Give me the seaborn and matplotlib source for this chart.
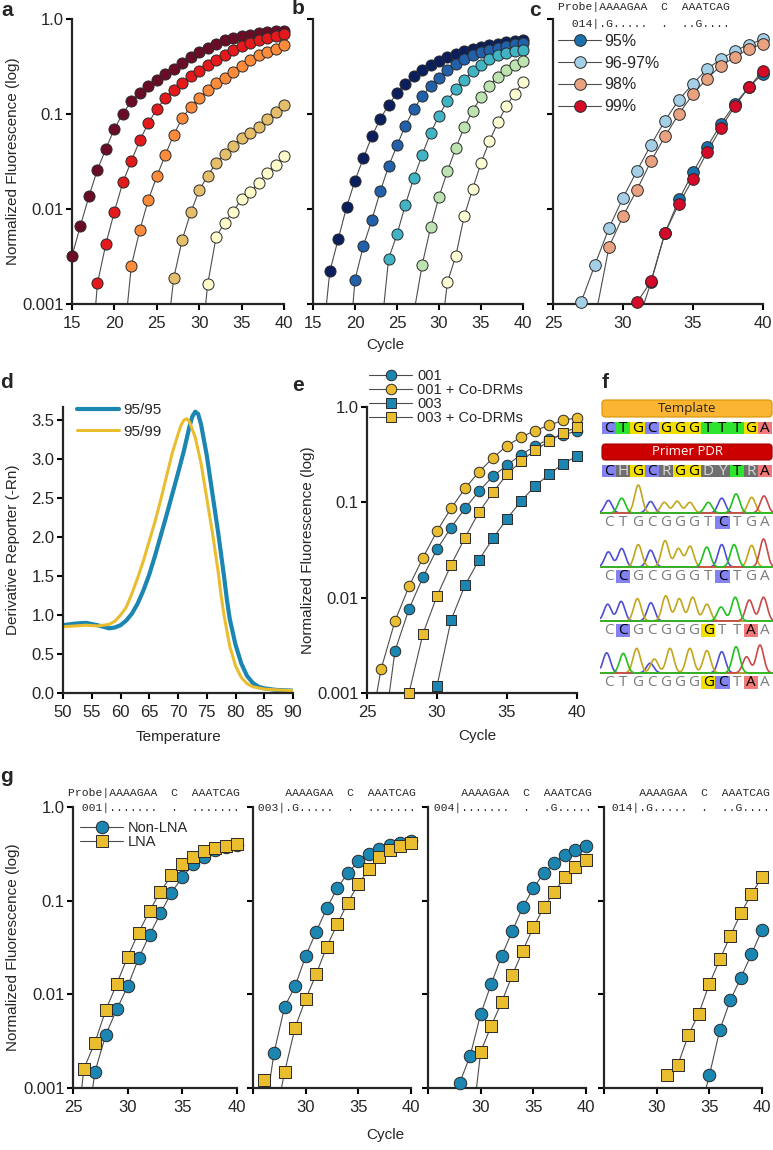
import numpy as np
import pandas as pd
import seaborn as sns
import matplotlib.pyplot as plt
from matplotlib.lines import Line2D
from matplotlib.patches import Rectangle, FancyBboxPatch
from matplotlib.ticker import NullLocator

# ---- data (normalized fluorescence, last value = cycle 40) ----
a_maroon = [0.0032, 0.0067, 0.0136, 0.026, 0.043, 0.070, 0.101, 0.136, 0.166, 0.195, 0.230, 0.262, 0.300,
            0.344, 0.398, 0.45, 0.495, 0.546, 0.596, 0.63, 0.657, 0.684, 0.71, 0.725, 0.74, 0.755]
a_red = [0.00013, 0.00165, 0.0043, 0.0094, 0.0191, 0.032, 0.053, 0.080, 0.113, 0.147, 0.18, 0.212, 0.25,
         0.285, 0.325, 0.37, 0.42, 0.47, 0.52, 0.565, 0.6, 0.63, 0.665, 0.695]
a_orange = [0.00032, 0.00253, 0.006, 0.0125, 0.022, 0.037, 0.0606, 0.0907, 0.119, 0.147, 0.177, 0.21, 0.24,
            0.28, 0.323, 0.37, 0.415, 0.445, 0.485, 0.535]
a_tan = [0.00031, 0.00188, 0.00475, 0.0092, 0.0157, 0.0224, 0.0305, 0.0382, 0.0464, 0.0559, 0.063, 0.0724,
         0.088, 0.104, 0.125]
a_pale = [0.00021, 0.00162, 0.0051, 0.0072, 0.0094, 0.0127, 0.015, 0.0188, 0.024, 0.0293, 0.0364]
a_colors = ["#6b0c26", "#e3191c", "#fd8b3c", "#e5be6c", "#fcfbc9"]

b_navy = [0.0003, 0.0022, 0.0048, 0.0105, 0.0199, 0.0344, 0.0582, 0.0885, 0.125, 0.166, 0.207, 0.249, 0.293,
          0.325, 0.358, 0.395, 0.428, 0.457, 0.483, 0.507, 0.528, 0.55, 0.568, 0.582, 0.596]
b_blue = [0.00015, 0.0018, 0.0041, 0.0076, 0.0153, 0.0281, 0.0468, 0.0754, 0.113, 0.153, 0.199, 0.239, 0.288,
          0.336, 0.379, 0.421, 0.45, 0.476, 0.495, 0.524, 0.546, 0.559]
b_teal = [0.0004, 0.003, 0.0054, 0.0111, 0.0212, 0.0373, 0.063, 0.096, 0.138, 0.183, 0.23, 0.281, 0.331,
          0.379, 0.42, 0.44, 0.457, 0.468]
b_green = [0.0008, 0.0026, 0.0064, 0.0134, 0.0249, 0.0439, 0.0724, 0.108, 0.151, 0.199, 0.245, 0.288, 0.325, 0.358]
b_pale = [0.0003, 0.0017, 0.0032, 0.0084, 0.0162, 0.0305, 0.0515, 0.0817, 0.12, 0.164, 0.216]
b_colors = ["#0b1f5c", "#2260a9", "#40b4c4", "#bde3b0", "#fdfdd4"]

c_labels = ["95%", "96-97%", "98%", "99%"]
c_95 = [0.0006, 0.0017, 0.0056, 0.0126, 0.0243, 0.0446, 0.079, 0.128, 0.192, 0.266]
c_9697 = [0.0003, 0.00104, 0.0026, 0.0063, 0.0131, 0.0253, 0.0475, 0.085, 0.142, 0.208, 0.298, 0.379, 0.464,
          0.537, 0.616]
c_98 = [0.0007, 0.004, 0.0084, 0.016, 0.0318, 0.0582, 0.101, 0.162, 0.236, 0.323, 0.398, 0.487, 0.546]
c_99 = [0.00104, 0.00173, 0.0056, 0.0114, 0.0207, 0.0395, 0.0713, 0.122, 0.192, 0.286]
c_colors = ["#1b6fab", "#a5cfe6", "#e9a27f", "#d50a28"]

d_labels = ["95/95", "95/99"]
d_temp_blue = [50, 52, 54, 56, 58, 59, 60, 61, 62, 63, 64, 65, 66, 67, 68, 69, 70, 71, 72, 72.5, 73, 73.5, 74,
               75, 76, 77, 78, 78.5, 79, 80, 81, 82, 83, 84, 85, 87, 90]
d_blue = [0.87, 0.89, 0.90, 0.87, 0.83, 0.84, 0.87, 0.93, 1.02, 1.15, 1.32, 1.52, 1.76, 2.02, 2.28, 2.55, 2.82,
          3.1, 3.42, 3.55, 3.61, 3.58, 3.45, 3.05, 2.55, 2.05, 1.5, 1.2, 0.95, 0.62, 0.38, 0.22, 0.13, 0.08,
          0.06, 0.04, 0.03]
d_temp_yel = [50, 52, 54, 56, 58, 59, 60, 61, 62, 63, 64, 65, 66, 67, 68, 69, 70, 70.5, 71, 71.5, 72, 73, 74,
              75, 76, 77, 77.5, 78, 79, 80, 81, 82, 83, 85, 87, 90]
d_yel = [0.85, 0.86, 0.87, 0.86, 0.88, 0.92, 1.0, 1.1, 1.28, 1.48, 1.7, 1.95, 2.2, 2.48, 2.78, 3.08, 3.32,
         3.43, 3.5, 3.52, 3.48, 3.28, 2.95, 2.5, 2.05, 1.55, 1.25, 1.0, 0.6, 0.35, 0.2, 0.12, 0.08, 0.05,
         0.04, 0.03]

e_labels = ["001", "001 + Co-DRMs", "003", "003 + Co-DRMs"]
e_001 = [0.00022, 0.00277, 0.0076, 0.0165, 0.0322, 0.0542, 0.0863, 0.131, 0.188, 0.245, 0.317, 0.388, 0.46,
         0.51, 0.56]
e_001co = [0.00026, 0.00177, 0.0057, 0.0131, 0.0263, 0.05, 0.0863, 0.14, 0.209, 0.292, 0.394, 0.482, 0.565,
           0.643, 0.725, 0.77]
e_003 = [0.0002, 0.00118, 0.0058, 0.0135, 0.0249, 0.0419, 0.0673, 0.103, 0.148, 0.196, 0.255, 0.305]
e_003co = [0.0003, 0.001, 0.0042, 0.0104, 0.022, 0.0426, 0.079, 0.128, 0.196, 0.27, 0.352, 0.438, 0.535, 0.617]

BLUE = "#1b86b2"
YELLOW = "#eabd2e"

g_probes = ["001", "003", "004", "014"]
g_codes = [".......  .  .......", ".G.....  .  .......", ".......  .  .G.....", ".G.....  .  ..G...."]
g_labels = ["Non-LNA", "LNA"]
g_nonlna = [
    [0.0002, 0.00148, 0.0037, 0.0069, 0.0122, 0.0242, 0.043, 0.0734, 0.122, 0.178, 0.248, 0.296, 0.344, 0.37, 0.39],
    [0.00042, 0.00239, 0.00736, 0.0122, 0.0256, 0.0467, 0.083, 0.136, 0.197, 0.262, 0.314, 0.355, 0.389, 0.412, 0.429],
    [0.00113, 0.0022, 0.00614, 0.0129, 0.0258, 0.0474, 0.085, 0.136, 0.197, 0.252, 0.309, 0.349, 0.379],
    [0.0005, 0.00136, 0.0042, 0.00867, 0.0151, 0.0269, 0.0486],
]
g_lna = [
    [0.00015, 0.00161, 0.00305, 0.0068, 0.0129, 0.0252, 0.0456, 0.0777, 0.125, 0.186, 0.245, 0.296, 0.335, 0.364,
     0.385, 0.40],
    [0.00121, 0.0004, 0.00148, 0.00442, 0.0089, 0.0164, 0.0323, 0.056, 0.0955, 0.15, 0.217, 0.289, 0.349, 0.379, 0.412],
    [0.00026, 0.00243, 0.0046, 0.0083, 0.016, 0.0292, 0.052, 0.085, 0.125, 0.178, 0.228, 0.273],
    [0.00136, 0.00175, 0.00365, 0.00624, 0.0129, 0.0236, 0.0423, 0.0734, 0.118, 0.178],
]

f_template = "CTGCGGGTTTGA"
f_primer = "CHGCRGGDYTRA"
f_reads = ["CTGCGGGTCTGA", "CCGCGGGTCTGA", "CCGCGGGGTTAA", "CTGCGGGGCTAA"]
f_marked = [[8], [1, 8], [1, 7, 10], [7, 8, 10]]
# chromatogram peaks: (base, position in cells, relative height)
f_peaks = [
    [("C", 0.45, 0.45), ("T", 1.39, 0.53), ("G", 2.56, 1.0), ("C", 3.43, 0.41), ("G", 4.4, 0.38), ("G", 5.3, 0.42),
     ("G", 6.2, 0.38), ("T", 7.5, 0.38), ("C", 8.45, 0.53), ("T", 9.46, 0.68), ("G", 10.56, 0.56), ("A", 11.43, 0.61)],
    [("C", 0.45, 0.54), ("C", 1.39, 0.66), ("G", 2.56, 0.8), ("C", 3.43, 0.6), ("G", 4.45, 0.94), ("G", 5.39, 0.66),
     ("G", 6.21, 0.74), ("T", 7.39, 0.71), ("C", 8.45, 0.8), ("T", 9.32, 0.8), ("G", 10.56, 0.77), ("A", 11.4, 1.0)],
    [("C", 0.4, 0.6), ("C", 1.35, 0.7), ("G", 2.5, 0.8), ("C", 3.45, 0.65), ("G", 4.5, 0.9), ("G", 5.45, 0.8),
     ("G", 6.4, 0.85), ("G", 7.4, 0.6), ("T", 8.4, 0.5), ("T", 9.4, 0.85), ("A", 10.4, 0.75), ("A", 11.4, 0.85)],
    [("C", 0.33, 0.72), ("T", 1.5, 0.7), ("G", 2.45, 0.88), ("C", 3.4, 0.35), ("G", 3.7, 0.5), ("G", 4.8, 0.88),
     ("G", 6.2, 0.88), ("G", 7.4, 0.8), ("C", 8.45, 0.76), ("T", 9.46, 0.94), ("A", 10.2, 0.58), ("A", 11.15, 1.0)],
]

CELL_COLORS = {"C": "#8282f2", "T": "#2fe42f", "G": "#f3de00", "A": "#f27a7a"}
TRACE_COLORS = {"C": "#4e4ed2", "G": "#c3a61c", "A": "#c84a4a", "T": "#20c020"}

# ---- figure ----
sns.set_style("ticks")
plt.rcParams["font.family"] = ["Liberation Sans", "DejaVu Sans"]
W, H = 773, 1150
fig = plt.figure(figsize=(W / 100, H / 100), dpi=100)

LINE_COL = "#4d4d4d"
EDGE_COL = "#2a2a2a"
LOG_TICKS = [0.001, 0.01, 0.1, 1.0]
LOG_LABELS = ["0.001", "0.01", "0.1", "1.0"]


def rect(x0, y0, x1, y1):
    return [x0 / W, 1 - y1 / H, (x1 - x0) / W, (y1 - y0) / H]


def fpos(x, y):
    return x / W, 1 - y / H


def tidy(ax):
    for s in ["top", "right"]:
        ax.spines[s].set_visible(False)
    for s in ["left", "bottom"]:
        ax.spines[s].set_linewidth(1.6)
    ax.tick_params(direction="out", length=4.5, width=1.5, labelsize=12, color="black")
    ax.tick_params(axis="x", pad=4)
    ax.tick_params(axis="y", pad=1.5)
    ax.set_xlabel("")
    ax.set_ylabel("")


def log_axes(ax, x0, xticks, xlabels, ylabels=True):
    ax.set_ylim(0.001, 1.0)
    ax.set_xlim(x0, 40)
    ax.set_yticks(LOG_TICKS)
    ax.set_yticklabels(LOG_LABELS)
    ax.yaxis.set_minor_locator(NullLocator())
    ax.set_xticks(xticks)
    ax.set_xticklabels(xlabels)
    tidy(ax)
    if not ylabels:
        ax.tick_params(axis="y", labelleft=False)


def draw_series(ax, vals, face, marker="o", size=8.0):
    cyc = np.arange(41 - len(vals), 41)
    df = pd.DataFrame({"cycle": cyc, "fluor": vals})
    sns.lineplot(data=df, x="cycle", y="fluor", ax=ax, color=LINE_COL, linewidth=0.8,
                 zorder=2, legend=False, errorbar=None)
    shown = df[df["fluor"] >= 0.001]
    sns.scatterplot(data=shown, x="cycle", y="fluor", ax=ax, marker=marker, s=size ** 2, color=face,
                    edgecolor=EDGE_COL, linewidth=0.7, clip_on=False, zorder=3, legend=False)


def proxy(face, marker="o", size=8.0):
    return Line2D([], [], color=LINE_COL, lw=0.8, marker=marker, markersize=size, markerfacecolor=face,
                  markeredgecolor=EDGE_COL, markeredgewidth=0.7)


mono = dict(family="Liberation Mono", fontsize=8.2, va="center", ha="left")

# a
ax_a = fig.add_axes(rect(72, 19, 284, 304))
ax_a.set_yscale("log")
for vals, col in zip([a_maroon, a_red, a_orange, a_tan, a_pale], a_colors):
    draw_series(ax_a, vals, col)
log_axes(ax_a, 15, [15, 20, 25, 30, 35, 40], ["15", "20", "25", "30", "35", "40"])

# b
ax_b = fig.add_axes(rect(313, 19, 523, 304))
ax_b.set_yscale("log")
for vals, col in zip([b_navy, b_blue, b_teal, b_green, b_pale], b_colors):
    draw_series(ax_b, vals, col)
log_axes(ax_b, 15, [15, 20, 25, 30, 35, 40], ["15", "20", "25", "30", "35", "40"], ylabels=False)

# c
ax_c = fig.add_axes(rect(553, 19, 763, 304))
ax_c.set_yscale("log")
for vals, col in zip([c_95, c_9697, c_98, c_99], c_colors):
    draw_series(ax_c, vals, col, size=8.4)
log_axes(ax_c, 25, [25, 30, 35, 40], ["25", "30", "35", "40"], ylabels=False)
ax_c.legend(handles=[proxy(c, size=8.4) for c in c_colors], labels=c_labels, loc="upper left",
            bbox_to_anchor=fpos(558, 34), bbox_transform=fig.transFigure, frameon=False, fontsize=11.5,
            borderpad=0, borderaxespad=0, handlelength=2.7, handletextpad=0.2, labelspacing=0.42)
fig.text(*fpos(558, 7), "Probe|AAAAGAA  C  AAATCAG", **mono)
fig.text(*fpos(558, 24), "  014|.G.....  .  ..G....", **mono)

fig.text(*fpos(13, 161), "Normalized Fluorescence (log)", rotation=90, ha="center", va="center", fontsize=11)
fig.text(*fpos(385, 345), "Cycle", ha="center", va="center", fontsize=11)

# d
ax_d = fig.add_axes(rect(63, 407, 293, 693))
sns.lineplot(x=d_temp_blue, y=d_blue, ax=ax_d, color=BLUE, linewidth=3.0, label=d_labels[0], errorbar=None)
sns.lineplot(x=d_temp_yel, y=d_yel, ax=ax_d, color=YELLOW, linewidth=2.2, label=d_labels[1], errorbar=None)
ax_d.set_xlim(50, 90)
ax_d.set_ylim(0, 3.67)
ax_d.set_xticks(range(50, 91, 5))
ax_d.set_yticks([0, 0.5, 1.0, 1.5, 2.0, 2.5, 3.0, 3.5])
ax_d.set_yticklabels(["0.0", "0.5", "1.0", "1.5", "2.0", "2.5", "3.0", "3.5"])
tidy(ax_d)
ax_d.legend(loc="upper left", bbox_to_anchor=fpos(77, 403), bbox_transform=fig.transFigure, frameon=False,
            fontsize=11, borderpad=0, borderaxespad=0, handlelength=2.75, handletextpad=0.3, labelspacing=0.5)
fig.text(*fpos(13, 550), "Derivative Reporter (-Rn)", rotation=90, ha="center", va="center", fontsize=11)
fig.text(*fpos(178, 737), "Temperature", ha="center", va="center", fontsize=11)

# e
ax_e = fig.add_axes(rect(367, 407, 577, 693))
ax_e.set_yscale("log")
e_series = [e_001, e_001co, e_003, e_003co]
e_faces = [BLUE, YELLOW, BLUE, YELLOW]
e_marks = ["o", "o", "s", "s"]
for vals, col, mk in zip(e_series, e_faces, e_marks):
    draw_series(ax_e, vals, col, marker=mk, size=7.6)
log_axes(ax_e, 25, [25, 30, 35, 40], ["25", "30", "35", "40"])
ax_e.legend(handles=[proxy(c, m, 7.6) for c, m in zip(e_faces, e_marks)], labels=e_labels, loc="upper left",
            bbox_to_anchor=fpos(369, 369), bbox_transform=fig.transFigure, frameon=False, fontsize=10.5,
            borderpad=0, borderaxespad=0, handlelength=2.95, handletextpad=0.35, labelspacing=0.0)
fig.text(*fpos(308, 550), "Normalized Fluorescence (log)", rotation=90, ha="center", va="center", fontsize=11)
fig.text(*fpos(477, 736), "Cycle", ha="center", va="center", fontsize=11)

# f
ax_f = fig.add_axes(rect(600, 395, 773, 692))
cw = 14.17
ax_f.set_xlim(-2 / cw, (773 - 602) / cw)
ax_f.set_ylim(692, 395)
ax_f.axis("off")
seq_font = dict(family=["Open Sans", "DejaVu Sans"], fontsize=11, ha="center", va="center")
ax_f.add_patch(FancyBboxPatch((0, 400), 12, 17, boxstyle="round,pad=0,rounding_size=0.25", mutation_aspect=cw,
                              facecolor="#fbb532", edgecolor="#d99300", linewidth=0.8))
ax_f.text(6, 408.5, "Template", family=["Open Sans", "DejaVu Sans"], fontsize=9.5, ha="center", va="center")
ax_f.add_patch(FancyBboxPatch((0, 444), 12, 16, boxstyle="round,pad=0,rounding_size=0.25", mutation_aspect=cw,
                              facecolor="#cc0000", edgecolor="#a00000", linewidth=0.8))
ax_f.text(6, 452, "Primer PDR", family=["Open Sans", "DejaVu Sans"], fontsize=9.5, ha="center", va="center",
          color="white")
for row_seq, y0 in [(f_template, 422), (f_primer, 465)]:
    for i, ch in enumerate(row_seq):
        fc = CELL_COLORS.get(ch, "#6f6f6f")
        ax_f.add_patch(Rectangle((i, y0), 1, 12.5, facecolor=fc, edgecolor="none"))
        ax_f.text(i + 0.5, y0 + 6.5, ch, color="black" if ch in CELL_COLORS else "#d8d8d8", **seq_font)

t = np.linspace(-0.1, 12.05, 600)
for r, (read, marked, peaks) in enumerate(zip(f_reads, f_marked, f_peaks)):
    base_y = [513, 567, 621, 673][r]
    for ch in ["C", "G", "A", "T"]:
        trace = np.zeros_like(t)
        for b, p, h in peaks:
            if b == ch:
                trace += h * np.exp(-((t - p) ** 2) / (2 * 0.26 ** 2))
        ax_f.plot(t, base_y - 28 * trace, color=TRACE_COLORS[ch], lw=1.2, zorder=3 if ch == "T" else 2)
    ly = base_y + 9.5
    for i, ch in enumerate(read):
        if i in marked:
            ax_f.add_patch(Rectangle((i, ly - 6.2), 1, 12.4, facecolor=CELL_COLORS[ch], edgecolor="none"))
            ax_f.text(i + 0.5, ly, ch, color="black", **seq_font)
        else:
            ax_f.text(i + 0.5, ly, ch, color="#7c7c7c", **seq_font)

# g
g_boxes = [(73, 237), (253, 411), (428, 586), (604, 762)]
g_text_x = [68, 244, 420, 598]
for k, ((x0, x1), probe, code) in enumerate(zip(g_boxes, g_probes, g_codes)):
    ax = fig.add_axes(rect(x0, 807, x1, 1088))
    ax.set_yscale("log")
    draw_series(ax, g_nonlna[k], BLUE, "o", 9.0)
    draw_series(ax, g_lna[k], YELLOW, "s", 8.4)
    if k == 0:
        log_axes(ax, 25, [25, 30, 35, 40], ["25", "30", "35", "40"])
        ax.legend(handles=[proxy(BLUE, "o", 9.0), proxy(YELLOW, "s", 8.4)], labels=g_labels, loc="upper left",
                  bbox_to_anchor=fpos(80, 821), bbox_transform=fig.transFigure, frameon=False, fontsize=10.5,
                  borderpad=0, borderaxespad=0, handlelength=2.95, handletextpad=0.3, labelspacing=0.0)
        fig.text(*fpos(g_text_x[k], 793), "Probe|AAAAGAA  C  AAATCAG", **mono)
    else:
        log_axes(ax, 25, [25, 30, 35, 40], ["", "30", "35", "40"], ylabels=False)
        fig.text(*fpos(g_text_x[k], 793), "      AAAAGAA  C  AAATCAG", **mono)
    fig.text(*fpos(g_text_x[k], 808), "  " + probe + "|" + code, **mono)

fig.text(*fpos(13, 947), "Normalized Fluorescence (log)", rotation=90, ha="center", va="center", fontsize=11)
fig.text(*fpos(385, 1135), "Cycle", ha="center", va="center", fontsize=11)

# panel letters
for letter, (x, y) in zip("abcdefg", [(7, 11), (298, 9), (535, 11), (7, 383), (298, 385), (605, 383), (7, 777)]):
    fig.text(*fpos(x, y), letter, fontsize=15, fontweight="bold", ha="center", va="center")

fig.savefig("out.png", dpi=100)
